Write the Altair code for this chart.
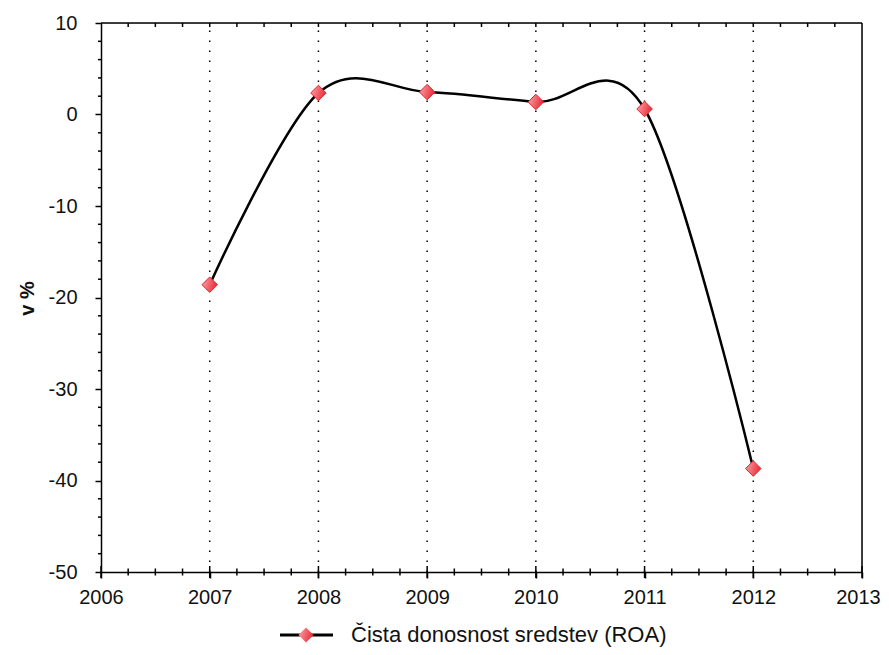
import altair as alt
import pandas as pd

# ---- data ----
years = [2007, 2008, 2009, 2010, 2011, 2012]
roa = [-18.6, 2.35, 2.45, 1.37, 0.6, -38.7]
series_name = "Čista donosnost sredstev (ROA)"

# ---- axis tick positions ----
x_major = [2006, 2007, 2008, 2009, 2010, 2011, 2012, 2013]
x_minor = [y + q for y in x_major[:-1] for q in (0.25, 0.5, 0.75)]
x_grid = [2007, 2008, 2009, 2010, 2011, 2012]
y_major = [-50, -40, -30, -20, -10, 0, 10]
y_minor = [v for v in range(-48, 10, 2) if v % 10 != 0]

FONT = "Liberation Sans"
TXT = "#111111"

df = pd.DataFrame({"year": years, "roa": roa, "series": series_name, "marker": "m"})

xs = alt.Scale(domain=[2006, 2013], nice=False, zero=False)
ys = alt.Scale(domain=[-50, 10], nice=False, zero=False)

xaxis = alt.Axis(values=x_major, labelExpr="datum.value + ''", grid=False,
                 tickSize=6, tickWidth=1.5, tickColor="black",
                 domain=True, domainColor="black", domainWidth=1.5,
                 labelFontSize=20, labelColor=TXT, labelFont=FONT, labelPadding=9,
                 labelOffset={"condition": {"test": "datum.value == 2013", "value": -4}, "value": 0},
                 labelFlush=False, labelOverlap=False, title=None)
yaxis = alt.Axis(values=y_major, labelExpr="datum.value + ''", grid=False,
                 tickSize=6, tickWidth=1.5, tickColor="black",
                 domain=True, domainColor="black", domainWidth=1.5,
                 labelFontSize=20, labelColor=TXT, labelFont=FONT, labelPadding=18,
                 labelFlush=False, labelOverlap=False,
                 title="v %", titleX=-74, titleY=275, titleAngle=270,
                 titleBaseline="middle", titleAlign="center",
                 titleFontSize=20, titleFontWeight="bold", titleFont=FONT, titleColor=TXT)

X = alt.X("year:Q", scale=xs, axis=xaxis)
Y = alt.Y("roa:Q", scale=ys, axis=yaxis)

def tick_df(xv, yv):
    return pd.DataFrame({"year": xv, "roa": yv})

# dotted vertical grid lines
grid = alt.Chart(tick_df(x_grid, [-50] * len(x_grid))).mark_rule(
    color="black", strokeWidth=1.5, strokeDash=[1.5, 8.5], opacity=1).encode(
    x=X, y=Y, y2=alt.datum(10))

# frame: right and top edges
frame_right = alt.Chart(tick_df([2013], [-50])).mark_rule(
    color="black", strokeWidth=1.5).encode(x=X, y=Y, y2=alt.datum(10))
frame_top = alt.Chart(tick_df([2006], [10])).mark_rule(
    color="black", strokeWidth=1.5).encode(x=X, x2=alt.datum(2013), y=Y)

line = alt.Chart(df).mark_line(interpolate="cardinal", strokeWidth=2.5).encode(
    x=X, y=Y,
    stroke=alt.Stroke("series:N", scale=alt.Scale(range=["black"]),
                      legend=alt.Legend(orient="none", legendX=177.5, legendY=584,
                                        title=None, symbolType="stroke", symbolSize=2809,
                                        symbolStrokeWidth=3, symbolStrokeColor="black",
                                        labelFontSize=22, labelFont=FONT, labelColor=TXT,
                                        labelOffset=16.5, labelLimit=0, padding=0)),
)

grad = alt.LinearGradient(gradient="linear",
                          stops=[alt.GradientStop(color="#ffa8b0", offset=0),
                                 alt.GradientStop(color="#e8303a", offset=1)],
                          x1=0, x2=1, y1=0, y2=0.3)

points = alt.Chart(df).mark_point(filled=True, size=240, fill=grad, stroke="#e3242f",
                                  strokeWidth=1, opacity=1).encode(
    x=X, y=Y,
    shape=alt.Shape("marker:N", scale=alt.Scale(range=["diamond"]),
                    legend=alt.Legend(orient="none", legendX=197, legendY=604, title=None,
                                      labelExpr="''", labelFontSize=1, symbolSize=225,
                                      symbolFillColor="#f0505a", symbolStrokeColor="#e3242f",
                                      symbolStrokeWidth=1, symbolOpacity=1, padding=0)),
)

bottom_major = alt.Chart(tick_df(x_major, [-50] * len(x_major))).mark_tick(
    orient="vertical", size=12, thickness=1.5, color="black", opacity=1).encode(x=X, y=Y)
bottom_minor = alt.Chart(tick_df(x_minor, [-50] * len(x_minor))).mark_tick(
    orient="vertical", size=7, thickness=1.5, color="black", opacity=1).encode(x=X, y=Y)
top_all = x_major[1:-1] + x_minor
top_ticks = alt.Chart(tick_df(top_all, [10] * len(top_all))).mark_tick(
    orient="vertical", size=4, thickness=1.5, color="black", opacity=1, yOffset=2).encode(x=X, y=Y)
left_minor = alt.Chart(tick_df([2006] * len(y_minor), y_minor)).mark_tick(
    orient="horizontal", size=3, thickness=1.5, color="black", opacity=1, xOffset=-1.5).encode(x=X, y=Y)

chart = alt.layer(grid, frame_right, frame_top, line, bottom_major, bottom_minor,
                  top_ticks, left_minor, points).properties(
    width=761, height=549,
    autosize=alt.AutoSizeParams(type="none"),
    padding={"left": 93, "top": 15, "right": 19, "bottom": 75},
    background="white",
).configure_view(stroke=None).configure(font=FONT)

chart.save("out.html", embed_options={"renderer": "svg", "actions": False})
